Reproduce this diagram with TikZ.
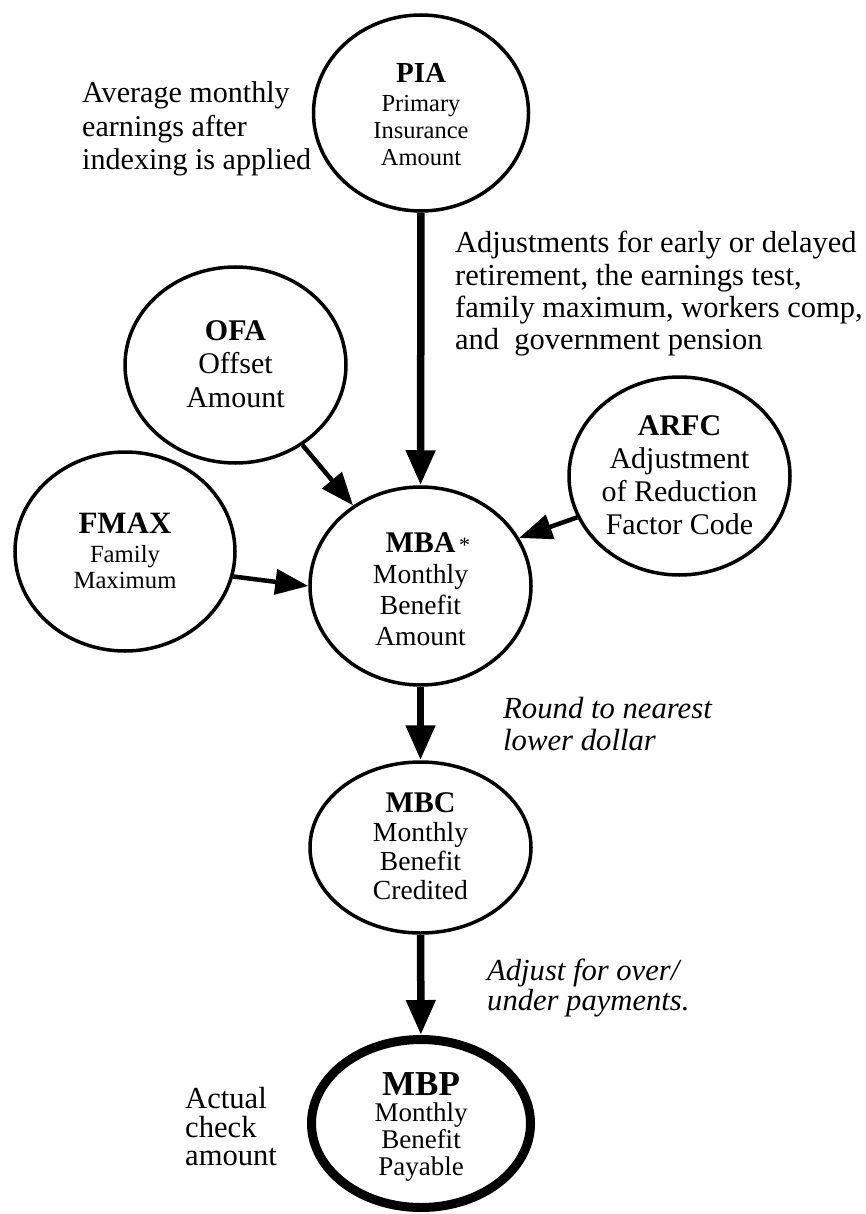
\documentclass[tikz,border=0pt]{standalone}
\usepackage{fontspec}
\setmainfont{Liberation Serif}
\usetikzlibrary{shapes.geometric,arrows.meta}
\newcommand{\fsz}[2]{\fontsize{#1}{#2}\selectfont}
\begin{document}
\begin{tikzpicture}[x=1pt,y=-1pt,
  oval/.style={draw, ellipse, line width=3.5pt, inner sep=0pt},
  vflow/.style={line width=7.5pt, -{Triangle[length=35pt,width=28pt]}},
  sflow/.style={line width=4.5pt, -{Triangle[length=33pt,width=25pt]}},
  note/.style={anchor=base west, inner sep=0pt},
  txt/.style={anchor=base, inner sep=0pt}
]
\path[use as bounding box] (0,0) rectangle (865,1214);

% ---- ellipses ----
\node[oval, minimum width=215pt, minimum height=196pt] (PIA) at (421,113) {};
\node[oval, minimum width=221pt, minimum height=196pt] (OFA) at (235.5,365) {};
\node[oval, minimum width=220pt, minimum height=199pt] (FMAX) at (125,551.5) {};
\node[oval, minimum width=221pt, minimum height=198pt] (ARFC) at (679.5,476) {};
\node[oval, minimum width=221pt, minimum height=198pt] (MBA) at (420.5,586) {};
\node[oval, minimum width=221pt, minimum height=171pt] (MBC) at (420.5,847.5) {};
\node[oval, line width=9pt, minimum width=219pt, minimum height=168pt] (MBP) at (421,1123.5) {};

% ---- ellipse texts (first baseline) ----
\node[txt, font=\fsz{24.5}{27}] (PIAt) at (421,83)
  {\begin{tabular}[t]{@{}c@{}}{\fsz{29}{27}\bfseries PIA}\\[2pt]Primary\\Insurance\\Amount\end{tabular}};
\node[txt, font=\fsz{30}{33.5}] (OFAt) at (235.5,340)
  {\begin{tabular}[t]{@{}c@{}}{\bfseries OFA}\\Offset\\Amount\end{tabular}};
\node[txt, font=\fsz{24.7}{26.5}] (FMAXt) at (125,533)
  {\begin{tabular}[t]{@{}c@{}}{\fsz{31}{26.5}\bfseries FMAX}\\[2.5pt]Family\\Maximum\end{tabular}};
\node[txt, font=\fsz{30}{33.3}] (ARFCt) at (679.5,435)
  {\begin{tabular}[t]{@{}c@{}}{\bfseries ARFC}\\Adjustment\\of Reduction\\Factor Code\end{tabular}};
\node[txt, font=\fsz{27.6}{31}] (MBAt) at (420.5,552)
  {\begin{tabular}[t]{@{}c@{}}{\fsz{30}{31}\bfseries MBA}\rlap{\fsz{22}{22}\,*}\\Monthly\\Benefit\\Amount\end{tabular}};
\node[txt, font=\fsz{27.6}{29.3}] (MBCt) at (420.5,812)
  {\begin{tabular}[t]{@{}c@{}}{\fsz{30}{29.3}\bfseries MBC}\\Monthly\\Benefit\\Credited\end{tabular}};
\node[txt, font=\fsz{27}{26.7}] (MBPt) at (421,1095)
  {\begin{tabular}[t]{@{}c@{}}{\fsz{35}{26.7}\bfseries MBP}\\Monthly\\Benefit\\Payable\end{tabular}};

% ---- annotations ----
\node[note, font=\fsz{30.1}{33.5}] (avg) at (82,103)
  {\begin{tabular}[t]{@{}l@{}}Average monthly\\earnings after\\indexing is applied\end{tabular}};
\node[note, font=\fsz{30.5}{32.3}] (adj) at (455,253)
  {\begin{tabular}[t]{@{}l@{}}Adjustments for early or delayed\\retirement, the earnings test,\\family maximum, workers comp,\\and\ \ government pension\end{tabular}};
\node[note, font=\fsz{30.7}{32}\itshape] (round) at (503,718)
  {\begin{tabular}[t]{@{}l@{}}Round to nearest\\lower dollar\end{tabular}};
\node[note, font=\fsz{30.6}{30}\itshape] (overunder) at (487,980)
  {\begin{tabular}[t]{@{}l@{}}Adjust for over/\\under payments.\end{tabular}};
\node[note, font=\fsz{30.6}{28}] (actual) at (185,1108)
  {\begin{tabular}[t]{@{}l@{}}Actual\\check\\amount\end{tabular}};

% ---- connectors ----
\draw[vflow] (PIA) -- (MBA);
\draw[vflow] (MBA) -- (MBC);
\draw[vflow] (MBC) -- (MBP);
\draw[sflow] (OFA) -- (MBA);
\draw[sflow] (FMAX.-13) -- (MBA.west);
\draw[sflow] (ARFC.202) -- (MBA.26);
\end{tikzpicture}
\end{document}
